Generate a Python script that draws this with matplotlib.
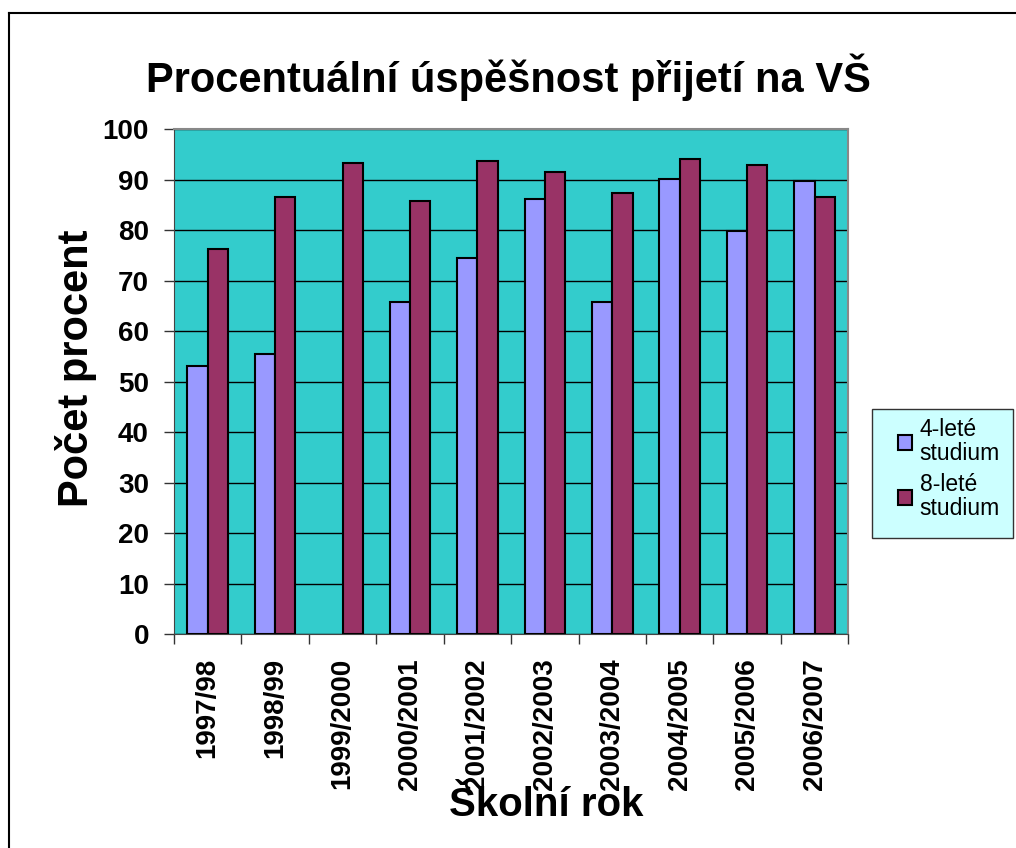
import matplotlib.pyplot as plt
from matplotlib.lines import Line2D
from matplotlib.patches import Rectangle
import numpy as np

plt.rcParams['font.family'] = ['Liberation Sans', 'DejaVu Sans']

# school years and success rates (percent)
years = ["1997/98", "1998/99", "1999/2000", "2000/2001", "2001/2002",
         "2002/2003", "2003/2004", "2004/2005", "2005/2006", "2006/2007"]
four_year = [53.0, 55.4, 0, 65.7, 74.4, 86.2, 65.7, 90.2, 79.9, 89.8]
eight_year = [76.3, 86.6, 93.3, 85.8, 93.7, 91.4, 87.4, 94.1, 92.9, 86.6]

W, H = 1016, 848
fig = plt.figure(figsize=(W / 100, H / 100), dpi=100)
ax = fig.add_axes([174 / W, 1 - 634.3 / H, 674.3 / W, 505.3 / H])
ax.set_facecolor("#33CCCC")

x = np.arange(len(years))
bw = 0.3
b1 = ax.bar(x - bw / 2, four_year, bw, color="#9999FF", edgecolor="black",
            linewidth=1.5, label="4-leté\nstudium", zorder=3)
b2 = ax.bar(x + bw / 2, eight_year, bw, color="#993366", edgecolor="black",
            linewidth=1.5, label="8-leté\nstudium", zorder=3)
# no outline for empty bars
for rect, v in zip(b1, four_year):
    if v == 0:
        rect.set_linewidth(0)

ax.set_xlim(-0.5, len(years) - 0.5)
ax.set_ylim(0, 100)
ax.set_yticks(range(0, 101, 10))
ax.yaxis.grid(True, color="black", linewidth=1, zorder=1)
ax.set_axisbelow(True)

ax.set_xticks(x)
ax.set_xticklabels(years, rotation=90, fontsize=20, fontweight="bold")
ax.set_xticks(np.arange(-0.5, len(years)), minor=True)
ax.tick_params(axis="x", which="major", length=0, pad=17)
ax.tick_params(axis="x", which="minor", length=7, width=1, color="#333333")
ax.tick_params(axis="y", length=7, width=1, color="#333333", pad=11)
for lab in ax.get_yticklabels():
    lab.set_fontsize(20)
    lab.set_fontweight("bold")

for s in ["top", "right"]:
    ax.spines[s].set_color("#888888")
    ax.spines[s].set_linewidth(1.5)
ax.spines["left"].set_color("#444444")
ax.spines["bottom"].set_color("#444444")

fig.text(508 / W, 1 - 77 / H, "Procentuální úspěšnost přijetí na VŠ",
         ha="center", va="center", fontsize=30, fontweight="bold")
fig.text(546 / W, 1 - 805 / H, "Školní rok", ha="center", va="center",
         fontsize=29, fontweight="bold")
fig.text(76 / W, 1 - 368 / H, "Počet procent", ha="center", va="center",
         rotation=90, fontsize=30, fontweight="bold")

# legend box
fig.add_artist(Rectangle((872 / W, 1 - 538 / H), 141 / W, 129 / H,
                         facecolor="#CCFFFF", edgecolor="#333333",
                         linewidth=1, transform=fig.transFigure, zorder=4))
leg = ax.legend(loc="upper left", bbox_to_anchor=(898 / W, 1 - 418 / H),
                bbox_transform=fig.transFigure, frameon=False,
                fontsize=16.5, handlelength=0.6, handleheight=0.6,
                handletextpad=0.35, borderpad=0, labelspacing=0.35,
                borderaxespad=0)
for t in leg.get_texts():
    t.set_linespacing(1.05)
leg.set_zorder(5)
fig.add_artist(leg)

# outer border (left and top only visible)
fig.add_artist(Line2D([8.5 / W, 8.5 / W], [0, 1 - 12.5 / H], color="black",
                      linewidth=1.5, transform=fig.transFigure))
fig.add_artist(Line2D([8.5 / W, 1], [1 - 12.5 / H, 1 - 12.5 / H],
                      color="black", linewidth=1.5, transform=fig.transFigure))

fig.savefig("out.png", dpi=100, facecolor="white")
